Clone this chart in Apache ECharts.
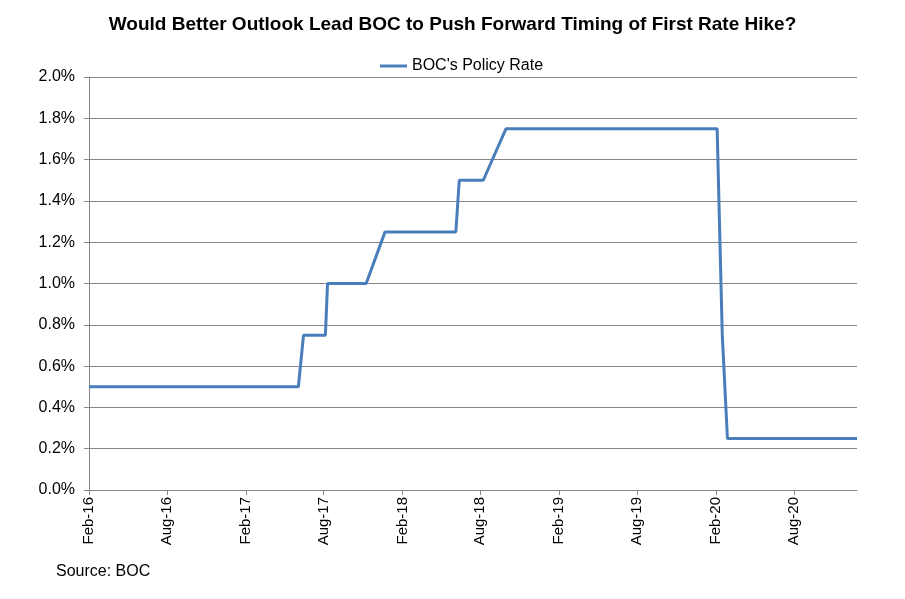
<!DOCTYPE html>
<html>
<head>
<meta charset="utf-8">
<script src="https://cdn.jsdelivr.net/npm/echarts@6/dist/echarts.min.js"></script>
<style>html,body{margin:0;padding:0;background:#fff;}#c{width:905px;height:599px;}</style>
</head>
<body>
<div id="c"></div>
<script>
const titleText = 'Would Better Outlook Lead BOC to Push Forward Timing of First Rate Hike?';
const seriesName = "BOC's Policy Rate";
const dates = ['2016-02-01','2017-06-03','2017-06-15','2017-08-05','2017-08-10','2017-11-08','2017-12-22','2018-06-05','2018-06-13','2018-08-08','2018-09-30','2020-02-04','2020-02-16','2020-02-28','2020-12-26'];
const rates = [0.5,0.5,0.75,0.75,1.0,1.0,1.25,1.25,1.5,1.5,1.75,1.75,0.75,0.25,0.25];
const tickDates = ['2016-02-01','2016-08-01','2017-02-01','2017-08-01','2018-02-01','2018-08-01','2019-02-01','2019-08-01','2020-02-01','2020-08-01'];
const tickLabels = ['Feb-16','Aug-16','Feb-17','Aug-17','Feb-18','Aug-18','Feb-19','Aug-19','Feb-20','Aug-20'];
const axisMin = '2016-02-01';
const axisMax = '2020-12-26';
const sourceText = 'Source: BOC';

const ts = d => new Date(d + 'T00:00:00Z').getTime();
const tickValues = tickDates.map(ts);
const font = 'Arial, "Liberation Sans", sans-serif';
const gridColor = '#868686';

const chart = echarts.init(document.getElementById('c'), null, {renderer: 'canvas'});
chart.setOption({
  backgroundColor: '#fff',
  animation: false,
  title: {
    text: titleText, left: 'center', top: 10,
    textStyle: {fontFamily: font, fontSize: 19, fontWeight: 'bold', color: '#000'}
  },
  legend: {
    top: 53, left: 375,
    data: [{name: seriesName, icon: 'rect'}],
    itemWidth: 27, itemHeight: 3, itemGap: 5,
    textStyle: {fontFamily: font, fontSize: 16, color: '#000'}
  },
  grid: {left: 89, right: 48, top: 77, bottom: 109, containLabel: false},
  xAxis: {
    type: 'value', min: ts(axisMin), max: ts(axisMax),
    axisLine: {show: true, onZero: false, lineStyle: {color: gridColor, width: 1}},
    axisTick: {show: true, length: 5, lineStyle: {color: gridColor}, customValues: tickValues},
    splitLine: {show: false},
    axisLabel: {
      customValues: tickValues, rotate: 90, margin: 7,
      fontFamily: font, fontSize: 15, color: '#000',
      formatter: v => { const i = tickValues.indexOf(v); return i >= 0 ? tickLabels[i] : ''; }
    }
  },
  yAxis: {
    type: 'value', min: 0, max: 2, interval: 0.2,
    axisLine: {show: true, lineStyle: {color: gridColor, width: 1}},
    axisTick: {show: true, inside: false, length: 5, lineStyle: {color: gridColor}},
    splitLine: {show: true, lineStyle: {color: gridColor, width: 1}},
    axisLabel: {margin: 14, fontFamily: font, fontSize: 16, color: '#000', formatter: v => v.toFixed(1) + '%'}
  },
  series: [{
    name: seriesName, type: 'line',
    data: dates.map((d, i) => [ts(d), rates[i]]),
    showSymbol: false, symbol: 'none',
    lineStyle: {color: '#4a7ebb', width: 3},
    itemStyle: {color: '#4a7ebb'}
  }],
  graphic: [{
    type: 'text', left: 56, top: 564,
    style: {text: sourceText, font: '16px ' + font, fill: '#000'}
  }]
});
</script>
</body>
</html>
